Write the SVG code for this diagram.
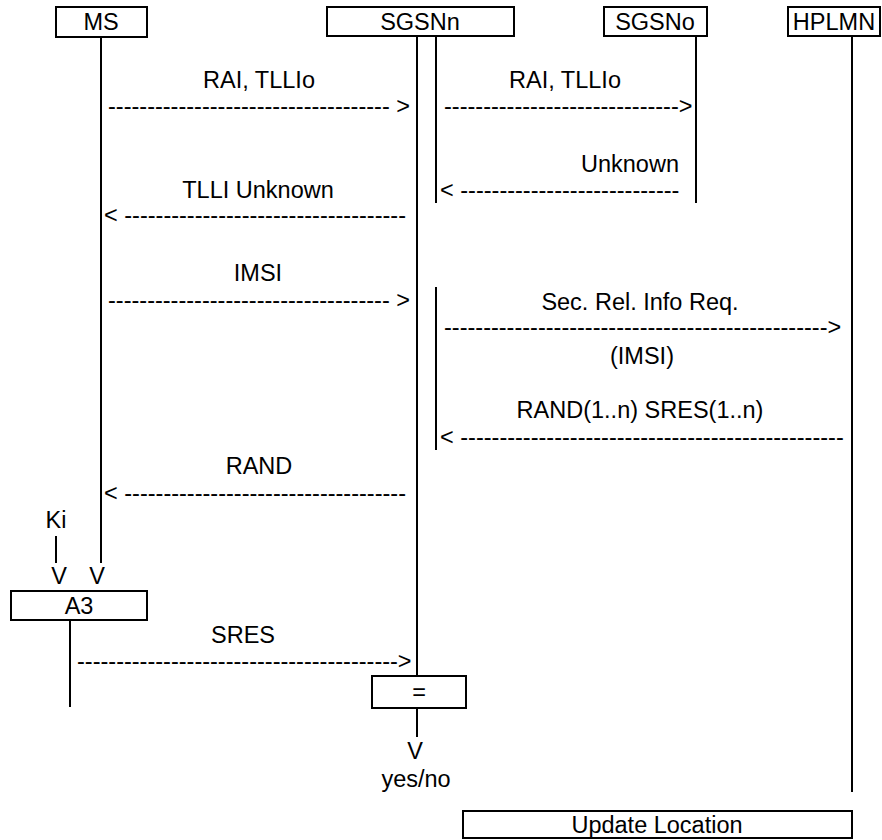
<svg xmlns="http://www.w3.org/2000/svg" width="882" height="840" viewBox="0 0 882 840">
<style>
  .box { fill: #ffffff; stroke: #000000; stroke-width: 2; }
  .life { stroke: #000000; stroke-width: 2; fill: none; }
  text { font-family: "Liberation Sans", Arial, sans-serif; font-size: 23.5px; fill: #000000; }
  .c { text-anchor: middle; }
  .arr { text-anchor: start; white-space: pre; }
</style>
<rect width="882" height="840" fill="#ffffff"/>

<g id="MS">
  <rect class="box" x="56" y="7" width="91" height="30"/>
  <text class="c" x="101" y="30">MS</text>
</g>
<g id="SGSNn">
  <rect class="box" x="327" y="7" width="187" height="29"/>
  <text class="c" x="420" y="30">SGSNn</text>
</g>
<g id="SGSNo">
  <rect class="box" x="604" y="7" width="103" height="29"/>
  <text class="c" x="655" y="30">SGSNo</text>
</g>
<g id="HPLMN">
  <rect class="box" x="788" y="7" width="92" height="29"/>
  <text class="c" x="834" y="30">HPLMN</text>
</g>
<g id="A3">
  <rect class="box" x="11" y="591" width="136" height="29"/>
  <text class="c" x="79" y="614">A3</text>
</g>
<g id="Compare">
  <rect class="box" x="372" y="676" width="94" height="32"/>
  <text class="c" x="419" y="700">=</text>
</g>
<g id="UpdateLocation">
  <rect class="box" x="463" y="811" width="389" height="27"/>
  <text class="c" x="657" y="833">Update Location</text>
</g>

<g id="connectors">
  <line class="life" x1="101" y1="37" x2="101" y2="563"/>
  <line class="life" x1="417" y1="36" x2="417" y2="676"/>
  <line class="life" x1="417" y1="708" x2="417" y2="737"/>
  <line class="life" x1="436" y1="36" x2="436" y2="203"/>
  <line class="life" x1="436" y1="287" x2="436" y2="450"/>
  <line class="life" x1="696" y1="36" x2="696" y2="203"/>
  <line class="life" x1="852" y1="36" x2="852" y2="792"/>
  <line class="life" x1="56" y1="536" x2="56" y2="563"/>
  <line class="life" x1="70" y1="620" x2="70" y2="707"/>

  <text class="arr" x="108" y="114">------------------------------------ &gt;</text>
  <text class="arr" x="444" y="114">------------------------------&gt;</text>
  <text class="arr" x="440" y="198">&lt; ----------------------------</text>
  <text class="arr" x="104" y="223">&lt; ------------------------------------</text>
  <text class="arr" x="108" y="308">------------------------------------ &gt;</text>
  <text class="arr" x="444" y="335">-------------------------------------------------&gt;</text>
  <text class="arr" x="440" y="445">&lt; -------------------------------------------------</text>
  <text class="arr" x="104" y="501">&lt; ------------------------------------</text>
  <text class="arr" x="77" y="669">-----------------------------------------&gt;</text>
</g>

<g id="labels">
  <text class="c" x="259" y="88">RAI, TLLIo</text>
  <text class="c" x="565" y="88">RAI, TLLIo</text>
  <text class="c" x="630" y="172">Unknown</text>
  <text class="c" x="258" y="198">TLLI Unknown</text>
  <text class="c" x="258" y="281">IMSI</text>
  <text class="c" x="640" y="310">Sec. Rel. Info Req.</text>
  <text class="c" x="642" y="364">(IMSI)</text>
  <text class="c" x="640" y="418">RAND(1..n) SRES(1..n)</text>
  <text class="c" x="259" y="474">RAND</text>
  <text class="c" x="56" y="528">Ki</text>
  <text class="c" x="59" y="584">V</text>
  <text class="c" x="97" y="584">V</text>
  <text class="c" x="243" y="643">SRES</text>
  <text class="c" x="415" y="759">V</text>
  <text class="c" x="416" y="787">yes/no</text>
</g>
</svg>
